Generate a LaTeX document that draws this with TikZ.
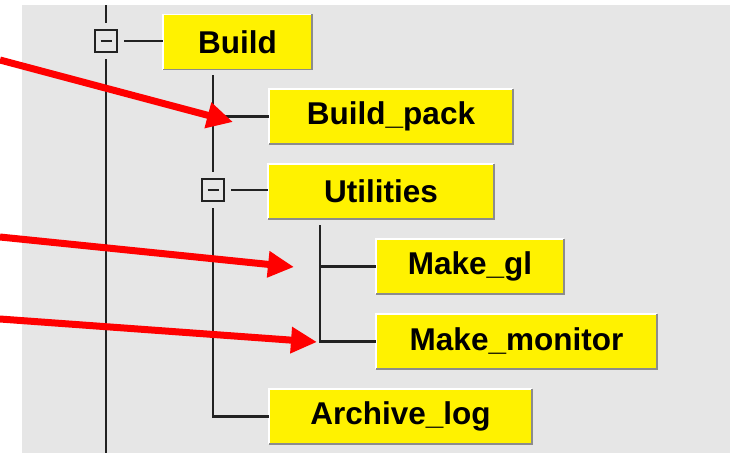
\documentclass[tikz,border=0pt]{standalone}
\usepackage{fontspec}
\setmainfont{Liberation Sans}
\usetikzlibrary{arrows.meta}

\definecolor{panel}{HTML}{E6E6E6}
\definecolor{edgegray}{HTML}{8C8C8C}
\definecolor{treeline}{HTML}{222222}
\definecolor{pointer}{HTML}{FF0000}

\tikzset{
  item/.style={fill=yellow, inner sep=0pt, minimum height=55pt,
    font=\fontsize{31.5}{37}\selectfont\bfseries},
  minusbox/.style={draw=treeline, line width=2.2pt, minimum size=22pt, inner sep=0pt,
    path picture={\draw[treeline, line width=2.2pt]
      ([xshift=-5.5pt]path picture bounding box.center) --
      ([xshift=5.5pt]path picture bounding box.center);}},
  branch/.style={treeline, line width=2.5pt},
  pointerline/.style={pointer, line width=7pt,
    -{Triangle[length=26pt, width=25pt]}},
}

\begin{document}
\begin{tikzpicture}[x=1pt, y=-1pt]
  \useasboundingbox (0,0) rectangle (730,453);
  \fill[white] (0,0) rectangle (730,453);
  \fill[panel] (22,5) rectangle (730,453);

  % tree items
  \node[item, minimum width=149pt] (build) at (237.5,42) {Build};
  \node[item, minimum width=244pt] (bpack) at (391,116.5) {Build\_pack};
  \node[item, minimum width=226pt] (util)  at (381,191.5) {Utilities};
  \node[item, minimum width=188pt] (mgl)   at (470,266.5) {Make\_gl};
  \node[item, minimum width=281pt] (mmon)  at (516.5,341.5) {Make\_monitor};
  \node[item, minimum width=263pt] (alog)  at (400.5,416.5) {Archive\_log};

  % raised border of each item
  \foreach \n in {build,bpack,util,mgl,mmon,alog}{
    \draw[white, line width=1.5pt] (\n.south west) -- (\n.north west) -- (\n.north east);
    \draw[edgegray, line width=1.5pt] (\n.north east) -- (\n.south east) -- (\n.south west);
  }

  % collapse toggles
  \node[minusbox] (mb1) at (106,41) {};
  \node[minusbox] (mb2) at (213,190) {};

  % tree connectors
  \coordinate (roottop) at (106,5);
  \coordinate (rootbot) at (106,453);
  \coordinate (bstem) at (213,75);
  \coordinate (ustem) at (320,225);

  \draw[branch] (roottop) -- ([yshift=6pt]mb1.north);
  \draw[branch] ([yshift=-6pt]mb1.south) -- (rootbot);
  \draw[branch] ([xshift=6pt]mb1.east) -- (mb1.east -| build.west);

  \draw[branch] (bstem) -- ([yshift=6pt]mb2.north);
  \draw[branch] (bstem |- bpack.west) -- (bpack.west);
  \draw[branch] ([xshift=6pt]mb2.east) -- (mb2.east -| util.west);
  \draw[branch] ([yshift=-6pt]mb2.south) |- (alog.west);

  \draw[branch] (ustem) |- (mmon.west);
  \draw[branch] (ustem |- mgl.west) -- (mgl.west);

  % red pointers
  \coordinate (s1) at (0,60);
  \coordinate (t1) at (233,122);
  \coordinate (s2) at (0,237);
  \coordinate (t2) at (294,267);
  \coordinate (s3) at (0,319);
  \coordinate (t3) at (317,342);
  \draw[pointerline] (s1) -- (t1);
  \draw[pointerline] (s2) -- (t2);
  \draw[pointerline] (s3) -- (t3);
\end{tikzpicture}
\end{document}
